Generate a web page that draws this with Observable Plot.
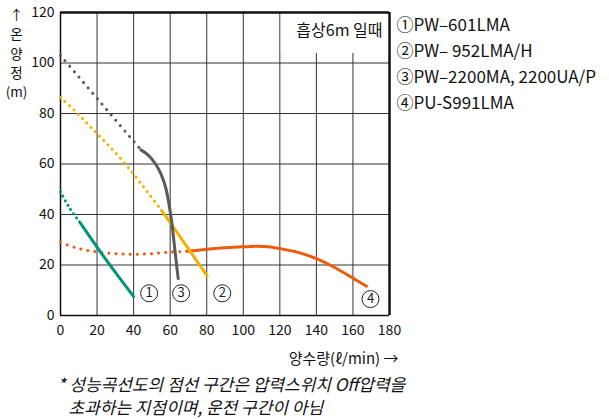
<!DOCTYPE html>
<html>
<head>
<meta charset="utf-8">
<script src="https://cdn.jsdelivr.net/npm/d3@7"></script>
<script src="https://cdn.jsdelivr.net/npm/@observablehq/plot@0.6"></script>
<style>
  html, body { margin: 0; padding: 0; background: #fff; }
  #chart svg { display: block; }
</style>
</head>
<body>
<div id="chart"></div>
<script>
// ---- data ----
const xTicks = [0, 20, 40, 60, 80, 100, 120, 140, 160, 180];
const yTicks = [0, 20, 40, 60, 80, 100, 120];

// ① PW-601LMA (green)
const s1DotX = [0, 5, 11];
const s1DotY = [49, 42.5, 36.5];
const s1X = [11, 25, 40];
const s1Y = [36.5, 22, 7.5];

// ② PW-952LMA/H (yellow)
const s2DotX = [0, 10, 20, 30, 40, 48, 55.3];
const s2DotY = [86.4, 79.5, 72, 64.5, 56, 48.5, 41.6];
const s2X = [55.3, 68, 80.2];
const s2Y = [41.6, 28.5, 15.7];

// ③ PW-2200MA, 2200UA/P (gray)
const s3DotX = [0, 10, 20, 30, 40, 44];
const s3DotY = [103, 94.5, 86, 77.5, 69, 65.6];
const s3X = [44, 48, 52, 55, 57.5, 59, 60.2, 61.2, 62, 63.2, 64.4];
const s3Y = [65.6, 63.5, 60, 56, 50.8, 45.5, 40.3, 35, 29.8, 22, 14.6];

// ④ PU-S991LMA (orange)
const s4DotX = [0, 10, 20, 30, 40, 50, 60, 69];
const s4DotY = [28.9, 26.5, 25.2, 24.5, 24.2, 24.5, 25.1, 25.4];
const s4X = [69, 80, 90, 100, 107.5, 115, 120, 130, 140, 150, 160, 167.4];
const s4Y = [25.4, 26.2, 26.8, 27.2, 27.4, 27.1, 26.5, 25, 22.5, 19, 14.8, 11.6];

// circled curve numbers
const markNums = ["1", "2", "3", "4"];
const markX = [48.5, 88.5, 66, 169.6];
const markY = [8.8, 8.8, 8.8, 6.5];

const legendLines = ["①PW–601LMA", "②PW– 952LMA/H", "③PW–2200MA, 2200UA/P", "④PU-S991LMA"];
const titleText = "흡상6m 일때";
const yLabel = ["↑", "온", "양", "정", "(m)"];
const xLabel = "양수량(ℓ/min) →";
const caption1 = "* 성능곡선도의 점선 구간은 압력스위치 Off압력을";
const caption2 = "초과하는 지점이며, 운전 구간이 아님";

// ---- build ----
const pts = (xs, ys) => xs.map((x, i) => ({x, y: ys[i]}));
const colors = {g: "#00957a", y: "#f5b000", k: "#5a5a5a", o: "#ee5a0e"};
const dotted = (xs, ys, c, gap) => Plot.line(pts(xs, ys), {
  x: "x", y: "y", stroke: c, strokeWidth: 3, strokeDasharray: `0.1,${gap}`,
  strokeLinecap: "round", curve: "catmull-rom"
});
const solid = (xs, ys, c) => Plot.line(pts(xs, ys), {
  x: "x", y: "y", stroke: c, strokeWidth: 3, curve: "catmull-rom"
});
const marks = markNums.map((n, i) => ({n, x: markX[i], y: markY[i]}));
const font = "'Noto Sans CJK KR', 'Noto Sans', sans-serif";

const chart = Plot.plot({
  width: 609,
  height: 419,
  marginLeft: 60,
  marginRight: 220,
  marginTop: 12,
  marginBottom: 104,
  style: {fontFamily: font, fontSize: "14px", color: "#111", background: "#fff"},
  x: {domain: [0, 180]},
  y: {domain: [0, 120]},
  marks: [
    Plot.ruleX(xTicks, {stroke: "#333", strokeWidth: 1}),
    Plot.ruleY(yTicks, {stroke: "#333", strokeWidth: 1}),
    Plot.rect([{}], {x1: 120.8, x2: 179.5, y1: 103.8, y2: 119.5, fill: "white"}),
    Plot.ruleY([120], {stroke: "#111", strokeWidth: 2.5}),
    Plot.ruleX([180], {stroke: "#111", strokeWidth: 2.5}),
    Plot.ruleX([0], {stroke: "#111", strokeWidth: 1.5}),
    Plot.ruleY([0], {stroke: "#111", strokeWidth: 1.5}),
    Plot.axisX({ticks: xTicks, tickSize: 0, tickPadding: 10, label: null, fontSize: 14}),
    Plot.axisY({ticks: yTicks, tickSize: 0, tickPadding: 6, label: null, fontSize: 14}),
    dotted(s3DotX, s3DotY, colors.k, 7),
    dotted(s2DotX, s2DotY, colors.y, 6),
    dotted(s1DotX, s1DotY, colors.g, 5),
    dotted(s4DotX, s4DotY, colors.o, 7),
    solid(s1X, s1Y, colors.g),
    solid(s4X, s4Y, colors.o),
    solid(s2X, s2Y, colors.y),
    solid(s3X, s3Y, colors.k),
    Plot.dot(marks, {x: "x", y: "y", r: 8.5, fill: "white", stroke: "#222", strokeWidth: 1}),
    Plot.text(marks, {x: "x", y: "y", text: "n", fontSize: 13, fill: "#222"}),
    Plot.text([titleText], {frameAnchor: "top-right", dx: -7, dy: 18, textAnchor: "end", lineAnchor: "middle", fontSize: 16, text: d => d}),
    Plot.text([legendLines.join("\n")], {frameAnchor: "top-left", dx: 336, dy: 0, textAnchor: "start", lineAnchor: "top", lineHeight: 1.53, fontSize: 17, text: d => d}),
    Plot.text([yLabel.join("\n")], {frameAnchor: "top-left", dx: -44, dy: 40, textAnchor: "middle", lineAnchor: "middle", lineHeight: 1.42, fontSize: 13.5, text: d => d}),
    Plot.text([xLabel], {frameAnchor: "bottom-right", dx: 9, dy: 44, textAnchor: "end", lineAnchor: "middle", fontSize: 15, text: d => d}),
    Plot.text([caption1], {frameAnchor: "bottom-left", dx: -3, dy: 70, textAnchor: "start", lineAnchor: "middle", fontSize: 17, fontStyle: "italic", text: d => d}),
    Plot.text([caption2], {frameAnchor: "bottom-left", dx: 8, dy: 93, textAnchor: "start", lineAnchor: "middle", fontSize: 17, fontStyle: "italic", text: d => d})
  ]
});
document.getElementById("chart").appendChild(chart);
</script>
</body>
</html>
